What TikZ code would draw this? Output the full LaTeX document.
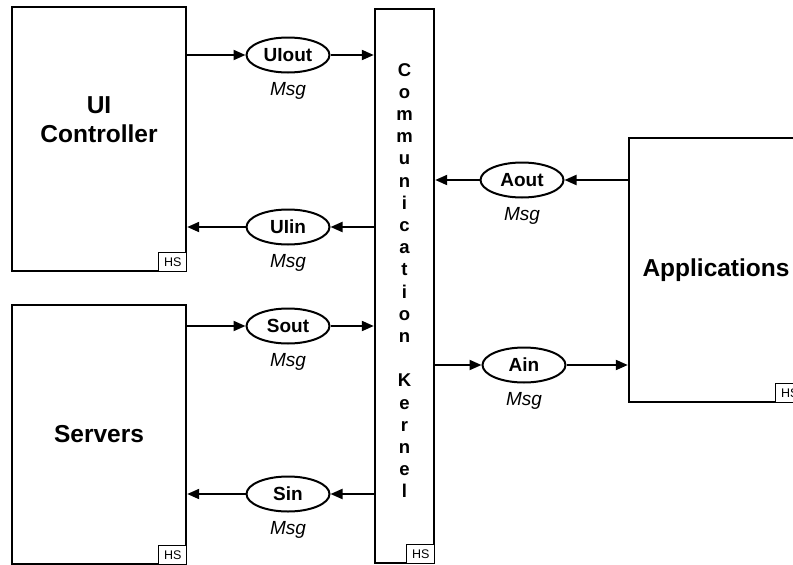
\documentclass[tikz,border=0pt]{standalone}
\usepackage{fontspec}
\setmainfont{Liberation Sans}
\usetikzlibrary{shapes.geometric, arrows.meta, positioning}
\tikzstyle{block} = [rectangle, minimum width=174pt, minimum height=264pt, inner sep=0pt, align=center, draw=black, line width=2.4pt, font=\fontsize{24.5}{29}\selectfont\bfseries]
\tikzstyle{boxname} = [align=center, font=\fontsize{24.5}{29}\selectfont\bfseries]
\tikzstyle{letters} = [align=center, font=\fontsize{18.5}{22.2}\selectfont\bfseries]
\tikzstyle{hs} = [rectangle, minimum width=28pt, minimum height=19pt, inner sep=0pt, draw=black, line width=0.8pt, fill=white, font=\fontsize{12.5}{14}\selectfont]
\tikzstyle{port} = [ellipse, minimum width=83pt, minimum height=35pt, inner sep=0pt, draw=black, line width=2pt, font=\fontsize{19}{22}\selectfont\bfseries]
\tikzstyle{msg} = [inner sep=1pt, font=\fontsize{19}{22}\selectfont\itshape]
\tikzstyle{arrow} = [line width=2pt, -{Triangle[length=12pt,width=10pt]}]

\begin{document}
\begin{tikzpicture}[x=1pt, y=-1pt]
        \clip (0,0) rectangle (793,565);
        
        \node (ui) [block] at (99,139) {};
        \node (uiname) [boxname] at (99,120) {UI\\Controller};
        \node (servers) [block, minimum height=259pt] at (99,434.5) {Servers};
        \node (kernel) [block, minimum width=59pt, minimum height=554pt] at (404.5,286) {};
        \node (kernelname) [letters] at (404.5,280.5) {C\\o\\m\\m\\u\\n\\i\\c\\a\\t\\i\\o\\n\\\mbox{}\\K\\e\\r\\n\\e\\l};
        \node (apps) [block] at (716,270) {Applications};
        
        % HS tags
        \node (uihs) [hs, anchor=south east] at (ui.south east) {HS};
        \node (servershs) [hs, anchor=south east] at (servers.south east) {HS};
        \node (kernelhs) [hs, anchor=south east] at (kernel.south east) {HS};
        \node (appshs) [hs, anchor=south east] at (apps.south east) {HS};
        
        % message ports
        \node (uiout) [port] at (288,55) {UIout};
        \node (uiin) [port] at (288,227) {UIin};
        \node (sout) [port] at (288,326) {Sout};
        \node (sin) [port] at (288,494) {Sin};
        \node (aout) [port] at (522,180) {Aout};
        \node (ain) [port] at (524,365) {Ain};
        \node (uioutmsg) [msg, below=8pt of uiout] {Msg};
        \node (uiinmsg) [msg, below=8pt of uiin] {Msg};
        \node (soutmsg) [msg, below=8pt of sout] {Msg};
        \node (sinmsg) [msg, below=8pt of sin] {Msg};
        \node (aoutmsg) [msg, below=8pt of aout] {Msg};
        \node (ainmsg) [msg, below=8pt of ain] {Msg};
        
        % Arrows
        \draw [arrow] (ui.east |- uiout) -- (uiout);
        \draw [arrow] (uiout) -- (uiout -| kernel.west);
        \draw [arrow] (uiin -| kernel.west) -- (uiin);
        \draw [arrow] (uiin) -- (uiin -| ui.east);
        \draw [arrow] (servers.east |- sout) -- (sout);
        \draw [arrow] (sout) -- (sout -| kernel.west);
        \draw [arrow] (sin -| kernel.west) -- (sin);
        \draw [arrow] (sin) -- (sin -| servers.east);
        \draw [arrow] (apps.west |- aout) -- (aout);
        \draw [arrow] (aout) -- (aout -| kernel.east);
        \draw [arrow] (ain -| kernel.east) -- (ain);
        \draw [arrow] (ain) -- (ain -| apps.west);
        
\end{tikzpicture}
\end{document}
